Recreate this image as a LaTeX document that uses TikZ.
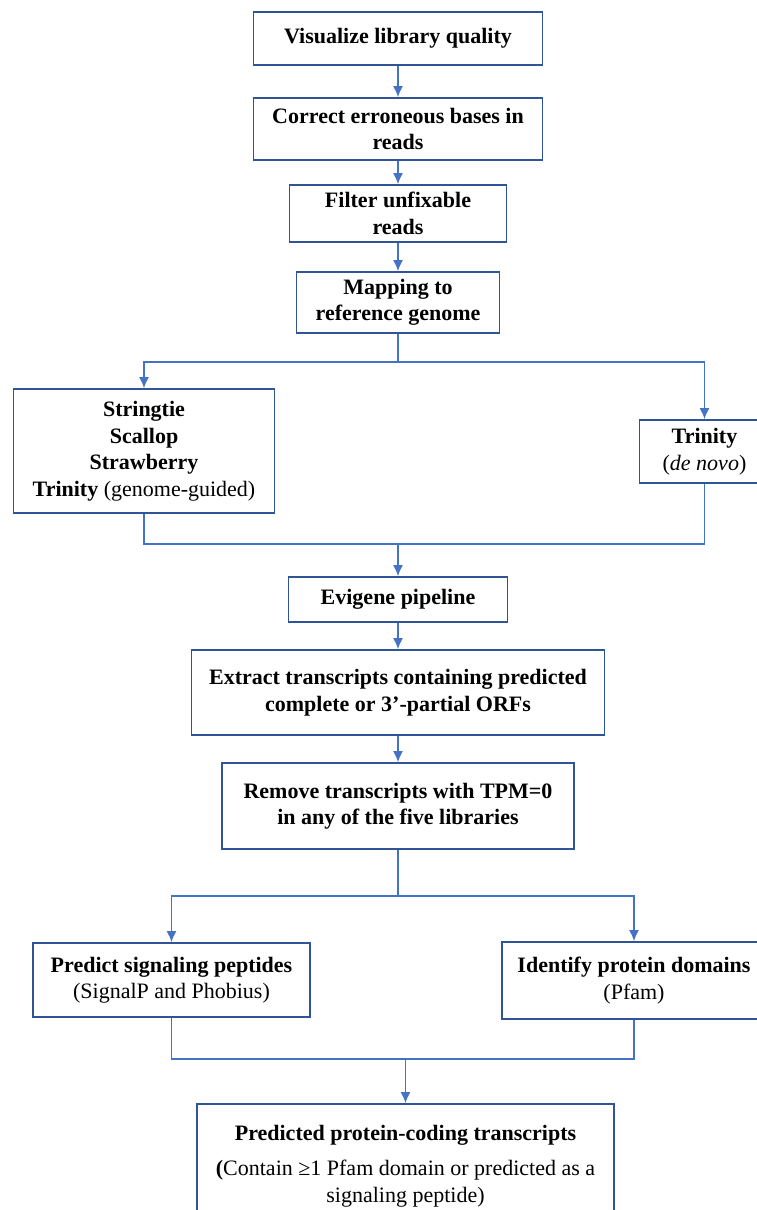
\documentclass[tikz,border=0pt]{standalone}
\usepackage{fontspec}
\setmainfont{Liberation Serif}
\usepackage{xcolor}
\usetikzlibrary{positioning,arrows.meta}
\definecolor{boxblue}{HTML}{2F5597}
\definecolor{flowblue}{HTML}{4472C4}

\begin{document}
\begin{tikzpicture}[-{Latex[length=11pt,width=10pt]} ,auto ,on grid ,line width=1.5pt ,flowblue ,stepbox/.style ={ rectangle ,draw=boxblue ,line width=1.8pt ,text=black ,font=\fontsize{22}{26.5}\selectfont\bfseries ,align=center ,inner sep=0pt}]
\useasboundingbox (0,0) rectangle (757pt,-1210pt);
\clip (0,0) rectangle (757pt,-1210pt);
\node[stepbox, minimum width=289pt, minimum height=53pt] (vis) at (398pt,-38.5pt) {Visualize library quality};
\node[stepbox, minimum width=289pt, minimum height=62pt] (corr) [below = 90.5pt of vis] {Correct erroneous bases in\\reads};
\node[stepbox, minimum width=217pt, minimum height=57pt] (filt) [below = 84.5pt of corr] {Filter unfixable\\reads};
\node[stepbox, minimum width=203pt, minimum height=61pt] (map) [below = 89pt of filt] {Mapping to\\reference genome};
\node[stepbox, minimum width=261pt, minimum height=124pt] (asm) [below left = 148.5pt and 254pt of map] {Stringtie\\Scallop\\Strawberry\\Trinity \mdseries(genome-guided)};
\node[stepbox, minimum width=130pt, minimum height=63pt] (trin) [below right = 149pt and 306.5pt of map] {Trinity\\\mdseries(\textit{de novo})};
\node[stepbox, minimum width=219pt, minimum height=45pt] (evi) [below = 297pt of map] {Evigene pipeline};
\node[stepbox, minimum width=413pt, minimum height=85pt] (extr) [below = 93pt of evi] {Extract transcripts containing predicted\\complete or 3’-partial ORFs};
\node[stepbox, minimum width=352pt, minimum height=86pt] (remv) [below = 113.5pt of extr] {Remove transcripts with TPM=0\\in any of the five libraries};
\node[stepbox, minimum width=277pt, minimum height=74pt] (pred) [below left = 174pt and 226.5pt of remv] {Predict signaling peptides\\\mdseries(SignalP and Phobius)};
\node[stepbox, minimum width=264pt, minimum height=77pt] (ident) [below right = 174.5pt and 236pt of remv] {Identify protein domains\\\mdseries(Pfam)};
\node[stepbox, minimum width=417pt, minimum height=124pt] (final) [below right = 360pt and 7.5pt of remv] {Predicted protein-coding transcripts\\[9pt]({\mdseries Contain ≥1 Pfam domain or predicted as a}\\\mdseries signaling peptide)};
\coordinate[below = 28pt of map.south] (splitA);
\coordinate[above = 32pt of evi.north] (mergeA);
\coordinate[below = 46pt of remv.south] (splitB);
\coordinate[above = 44pt of final.north] (mergeB);
\path (vis) edge (corr);
\path (corr) edge (filt);
\path (filt) edge (map);
\draw[-] (map.south) -- (splitA);
\draw (splitA) -| (asm.north);
\draw (splitA) -| (trin.north);
\draw[-] (asm.south) |- (mergeA);
\draw[-] (trin.south) |- (mergeA);
\draw (mergeA) -- (evi.north);
\path (evi) edge (extr);
\path (extr) edge (remv);
\draw[-] (remv.south) -- (splitB);
\draw (splitB) -| (pred.north);
\draw (splitB) -| (ident.north);
\draw[-] (pred.south) |- (mergeB) -| (ident.south);
\draw (mergeB) -- (final.north);
\end{tikzpicture}
\end{document}
